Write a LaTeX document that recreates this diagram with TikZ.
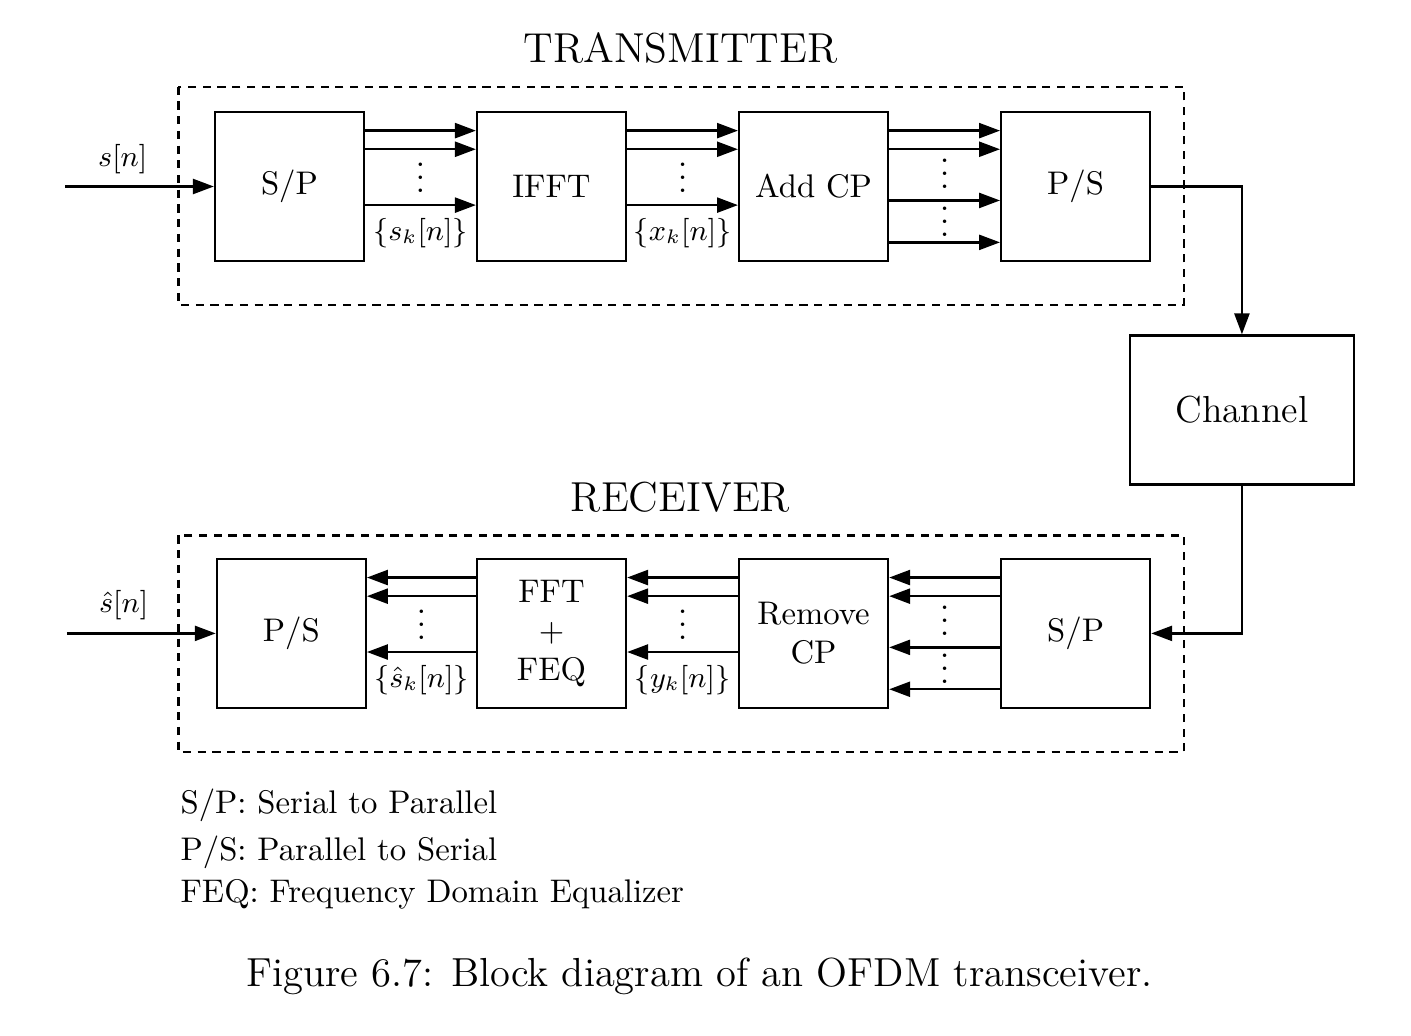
\documentclass[tikz,border=0pt]{standalone}
\usepackage{amsmath}
\usetikzlibrary{%
  arrows.meta%
  ,calc%
  ,positioning
}

\tikzset{
  block/.style={draw,line width=0.7pt,minimum width=1.6cm,minimum height=1.6cm,inner sep=0pt,align=center},
  sig/.style={line width=0.7pt,-{Triangle[length=6.4pt,width=4.6pt]}},
  frame/.style={line width=0.7pt,dash pattern=on 2.5pt off 2pt},
  lbl/.style={font=\small,inner sep=1pt},
}

\begin{document}
\begin{tikzpicture}
      \useasboundingbox (-2.309,-9.114) rectangle (12.846,2.003);
      %% transmitter
      \node[block] (sp) at (0.8,0) {S/P};
      \node[block,right=1.19cm of sp] (ifft) {IFFT};
      \node[block,right=1.19cm of ifft] (addcp) {Add CP};
      \node[block,right=1.19cm of addcp] (ps) {P/S};
      \draw[frame] ($(sp.north west)+(-0.38,0.26)$) rectangle ($(ps.south east)+(0.35,-0.46)$);
      \node[font=\fontsize{12.8}{15}\selectfont,anchor=base] (tx) at (5,1.337) {TRANSMITTER};
      \foreach \a/\b/\s in {sp/ifft/s,ifft/addcp/x} {
        \foreach \dy in {0.6,0.4,-0.2}
          \draw[sig] ([yshift=\dy cm]\a.east) -- ([yshift=\dy cm]\b.west);
        \node (dots-\a) at ($(\a.east)!0.5!(\b.west)+(0,0.2)$) {$\vdots$};
        \node[lbl] (lab-\a) at ($(\a.east)!0.5!(\b.west)+(0,-0.5)$) {$\{\s_k[n]\}$};
      }
      \foreach \dy in {0.6,0.4,-0.15,-0.6}
        \draw[sig] ([yshift=\dy cm]addcp.east) -- ([yshift=\dy cm]ps.west);
      \node (dots-a) at ($(addcp.east)!0.5!(ps.west)+(0,0.24)$) {$\vdots$};
      \node (dots-b) at ($(addcp.east)!0.5!(ps.west)+(0,-0.27)$) {$\vdots$};
      \coordinate (in) at (-1.61,0);
      \draw[sig] (in) -- (sp.west);
      \node[lbl] (sn) at (-0.99,0.29) {$s[n]$};

      %% channel
      \node[block,minimum width=2.4cm,font=\fontsize{11.5}{13}\selectfont] (chan) at (11.03,-2.4) {Channel};
      \draw[sig] (ps.east) -| (chan.north);

      %% receiver
      \node[block] (rps) at (0.82,-4.8) {P/S};
      \node[block,right=1.17cm of rps] (fft) {FFT\\$+$\\FEQ};
      \node[block,right=1.19cm of fft] (rmcp) {Remove\\CP};
      \node[block,right=1.19cm of rmcp] (rsp) {S/P};
      \draw[frame] ($(rps.north west)+(-0.4,0.24)$) rectangle ($(rsp.south east)+(0.35,-0.46)$);
      \node[font=\fontsize{12.8}{15}\selectfont,anchor=base] (rx) at (5,-3.49) {RECEIVER};
      \foreach \a/\b/\s in {rps/fft/\hat{s},fft/rmcp/y} {
        \foreach \dy in {0.6,0.4,-0.2}
          \draw[sig] ([yshift=\dy cm]\b.west) -- ([yshift=\dy cm]\a.east);
        \node (dots-\a) at ($(\a.east)!0.5!(\b.west)+(0,0.2)$) {$\vdots$};
        \node[lbl] (lab-\a) at ($(\a.east)!0.5!(\b.west)+(0,-0.5)$) {$\{\s_k[n]\}$};
      }
      \foreach \dy in {0.6,0.4,-0.15,-0.6}
        \draw[sig] ([yshift=\dy cm]rsp.west) -- ([yshift=\dy cm]rmcp.east);
      \node (dots-c) at ($(rmcp.east)!0.5!(rsp.west)+(0,0.24)$) {$\vdots$};
      \node (dots-d) at ($(rmcp.east)!0.5!(rsp.west)+(0,-0.27)$) {$\vdots$};
      \draw[sig] (chan.south) |- (rsp.east);
      \coordinate (out) at (-1.59,-4.8);
      \draw[sig] (out) -- (rps.west);
      \node[lbl] (shn) at (-0.98,-4.5) {$\hat{s}[n]$};

      %% legend and caption
      \node[anchor=base west,inner sep=0pt] (leg1) at (-0.376,-6.73) {S/P: Serial to Parallel};
      \node[anchor=base west,inner sep=0pt] (leg2) at (-0.376,-7.234) {P/S: Parallel to Serial};
      \node[anchor=base west,inner sep=0pt] (leg3) at (-0.376,-7.685) {FEQ: Frequency Domain Equalizer};
      \node[anchor=base,font=\fontsize{12.4}{15}\selectfont] (cap) at (5.204,-8.59) {Figure 6.7: Block diagram of an OFDM transceiver.};
    \end{tikzpicture}
\end{document}
